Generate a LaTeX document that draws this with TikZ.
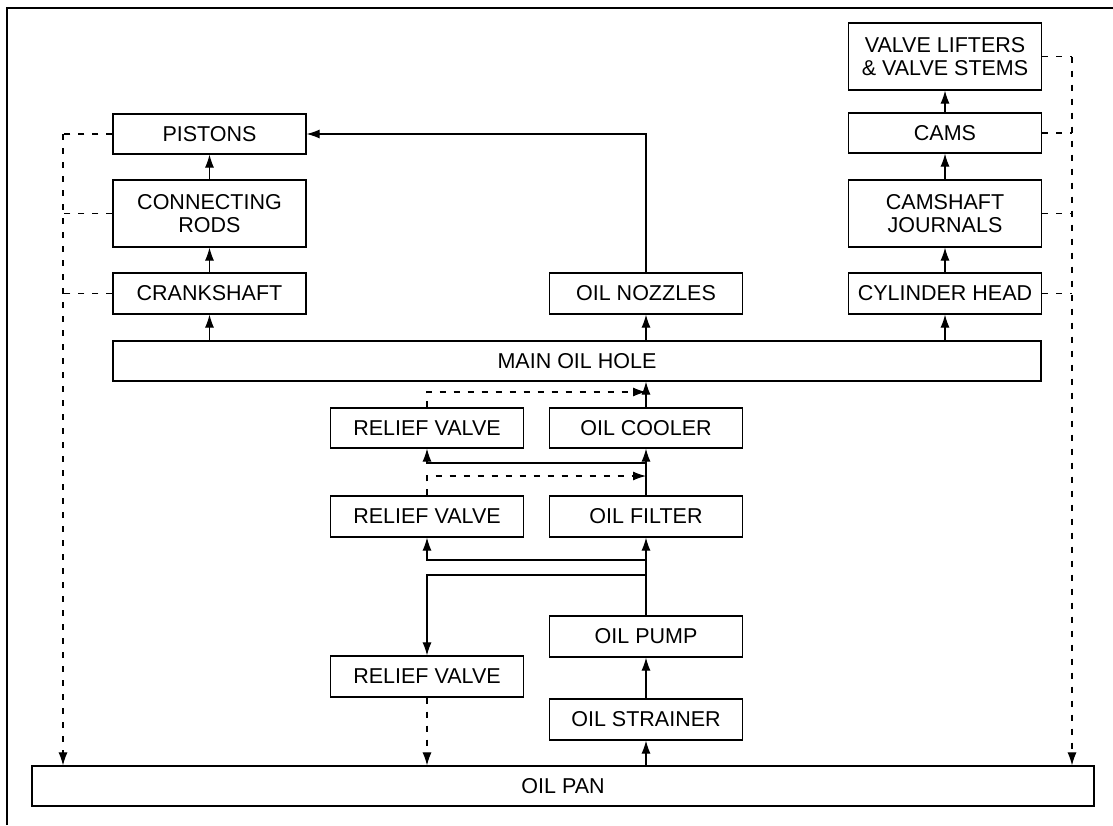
\documentclass[tikz,border=0pt]{standalone}
\usepackage{fontspec}
\setmainfont{Liberation Sans}
\usetikzlibrary{arrows.meta}
\begin{document}
\begin{tikzpicture}[x=1pt,y=-1pt,
  box/.style={draw, line width=1.2pt, inner sep=0pt, align=center,
    font=\fontsize{21.5}{23}\selectfont, minimum height=40pt},
  colbox/.style={box, minimum width=193pt},
  arr/.style={-{Latex[length=13pt,width=9pt]}},
  conn/.style={line width=1.1pt},
  dsh/.style={conn, dash pattern=on 6pt off 8pt}]
\useasboundingbox (0,0) rectangle (1113,825);
\draw[line width=1.4pt] (7,825) -- (7,8) -- (1113,8);
% left column
\node[colbox] (pist) at (209.5,134) {PISTONS};
\node[colbox, minimum height=67pt] (rods) at (209.5,213.5) {CONNECTING\\RODS};
\node[colbox, minimum height=41pt] (crank) at (209.5,293.5) {CRANKSHAFT};
% main
\node[box, minimum width=928pt] (main) at (577,361) {MAIN OIL HOLE};
\node[colbox, minimum height=41pt] (noz) at (646,293.5) {OIL NOZZLES};
% right column
\node[colbox, minimum height=67pt] (vl) at (945,56.5) {VALVE LIFTERS\\\& VALVE STEMS};
\node[colbox] (cams) at (945,133) {CAMS};
\node[colbox, minimum height=67pt] (cj) at (945,213.5) {CAMSHAFT\\JOURNALS};
\node[colbox, minimum height=41pt] (ch) at (945,293.5) {CYLINDER HEAD};
% middle
\node[colbox] (rv1) at (427,428) {RELIEF VALVE};
\node[colbox] (cool) at (646,428) {OIL COOLER};
\node[colbox, minimum height=41pt] (rv2) at (427,516.5) {RELIEF VALVE};
\node[colbox, minimum height=41pt] (filt) at (646,516.5) {OIL FILTER};
\node[colbox, minimum height=41pt] (pump) at (646,636.5) {OIL PUMP};
\node[colbox, minimum height=41pt] (rv3) at (427,676.5) {RELIEF VALVE};
\node[colbox, minimum height=41pt] (str) at (646,719.5) {OIL STRAINER};
\node[box, minimum width=1062pt] (pan) at (563,786) {OIL PAN};
% helper coordinates
\coordinate (L) at (63,0);
\coordinate (R) at (1072,0);
\coordinate (j1) at (646,463);
\coordinate (j2) at (646,560);
\coordinate (j3) at (646,575);
\coordinate (d1) at (646,392);
\coordinate (d2) at (646,476);
% left column flow
\draw[conn,arr] (main.north -| crank) -- (crank.south);
\draw[conn,arr] (crank.north) -- (rods.south);
\draw[conn,arr] (rods.north) -- (pist.south);
% nozzles
\draw[conn,arr] (main.north -| noz) -- (noz.south);
\draw[conn,arr] (noz.north) |- (pist.east);
% right column flow
\draw[conn,arr] (main.north -| ch) -- (ch.south);
\draw[conn,arr] (ch.north) -- (cj.south);
\draw[conn,arr] (cj.north) -- (cams.south);
\draw[conn,arr] (cams.north) -- (vl.south);
% middle flow
\draw[conn,arr] (pan.north -| str) -- (str.south);
\draw[conn,arr] (str.north) -- (pump.south);
\draw[conn,arr] (pump.north) -- (filt.south);
\draw[conn,arr] (filt.north) -- (cool.south);
\draw[conn,arr] (cool.north) -- (main.south -| cool);
% relief branches
\draw[conn,arr] (j1) -| (rv1.south);
\draw[conn,arr] (j2) -| (rv2.south);
\draw[conn,arr] (j3) -| (rv3.north);
\draw[dsh,arr] (rv1.north) |- (d1);
\draw[dsh,arr] (rv2.north) |- (d2);
\draw[dsh,arr] (rv3.south) -- (rv3.south |- pan.north);
% left return lines
\draw[dsh] (pist.west) -- (pist.west -| L);
\draw[dsh] (rods.west) -- (rods.west -| L);
\draw[dsh] (crank.west) -- (crank.west -| L);
\draw[dsh,arr] (pist.west -| L) -- (L |- pan.north);
% right return lines
\draw[dsh] (vl.east) -- (vl.east -| R);
\draw[dsh] (cams.east) -- (cams.east -| R);
\draw[dsh] (cj.east) -- (cj.east -| R);
\draw[dsh] (ch.east) -- (ch.east -| R);
\draw[dsh,arr] (vl.east -| R) -- (R |- pan.north);
\end{tikzpicture}
\end{document}
